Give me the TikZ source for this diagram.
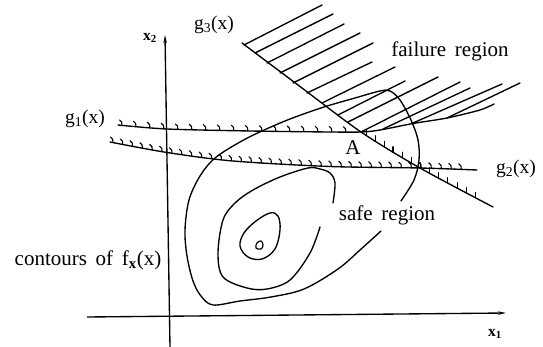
\documentclass[tikz,border=0pt]{standalone}
\usepackage{fontspec}
\setmainfont{Liberation Serif}
\usetikzlibrary{decorations.markings,arrows.meta}
\begin{document}
\begin{tikzpicture}[x=1pt,y=-1pt,
  line/.style={line width=1.35pt, line cap=round, line join=round},
  axis/.style={line width=1.35pt, -{Stealth[length=8pt,width=3.5pt]}},
  lbl/.style={font=\fontsize{21}{23}\selectfont, inner sep=0pt},
  glbl/.style={font=\fontsize{19.5}{21}\selectfont, inner sep=0pt},
  axl/.style={font=\fontsize{15.5}{16}\selectfont\bfseries, inner sep=0pt},
  hookticks/.style n args={3}{postaction={decorate}, decoration={markings,
     mark=between positions #1 and #2 step #3 with {\pgftransformresetnontranslations
       \draw[line width=1.1pt, line cap=round] (0pt,0pt) .. controls (0pt,3.5pt) .. (-2.5pt,5.5pt);}}},
  vticks/.style n args={3}{postaction={decorate}, decoration={markings,
     mark=between positions #1 and #2 step #3 with {\pgftransformresetnontranslations
       \draw[line width=1.1pt, line cap=round] (0pt,0pt) -- (0pt,5.5pt);}}},
  hatch/.style={line width=1.35pt, line cap=round}
]
\useasboundingbox (0,0) rectangle (543,347);

% axes
\coordinate (yb) at (170,347);
\coordinate (yt) at (165,35);
\coordinate (xl) at (87,317);
\coordinate (xr) at (506,313);
\draw[axis] (yb) -- (yt);
\draw[axis] (xl) -- (xr);
\node[axl] (x2) at (150,38) {x\textsubscript{2}};
\node[axl] (x1) at (495,334) {x\textsubscript{1}};

% limit state surfaces
\draw[line, hookticks={4pt}{236pt}{14pt}] plot[smooth, tension=0.5] coordinates
  {(118,125) (167,129) (250,131) (330,132) (361,132) (380,130) (413,123.5) (447,118) (480,110) (494,104)};
\draw[line, hookticks={3pt}{355pt}{10pt}] plot[smooth, tension=0.5] coordinates
  {(110,142) (167,152.5) (233,161) (330,166.5) (420,168) (477,170)};
\draw[line, vticks={155pt}{288pt}{10.5pt}] plot[smooth, tension=0.5] coordinates
  {(242,43) (300,86.5) (361,132) (420,168) (493,207)};

% failure region hatching
\foreach \sx/\sy/\ex/\ey in {244/45/322/5, 255/53/333/14, 267/63/344/24, 280/73/360/33,
   293/83/373/43, 307/93/372/62, 322/103/395/67, 338/115/405/81, 348/122/438/77,
   361/132/460/82, 383/129/470/88, 413/123/502/84, 447/118/520/83}
  \draw[hatch] (\sx,\sy) -- (\ex,\ey);

% contours
\draw[line] plot[smooth, tension=0.55] coordinates
  {(401,201) (414,180) (419,160) (418,140) (411,120) (400,100) (390,91) (380,91) (355,98)
   (324,107) (290,119) (262,131) (240,142) (215,158) (200,176) (189,200) (185,230) (187,256)
   (193,281) (201,296) (213,305) (240,301) (271,297) (304,289) (338,269) (360,250) (381,231)};
\draw[line] plot[smooth, tension=0.55] coordinates
  {(333,203) (335,183) (330,173) (320,169) (308,168) (280,177) (253,190) (235,203) (223,220)
   (218,253) (223,277) (247,288) (267,289) (290,280) (310,253) (320,227)};
\draw[line] plot[smooth cycle, tension=0.6] coordinates
  {(270,213) (278,216) (280,230) (275,249) (262,259) (248,257) (240,246) (244,233) (256,221)};
\draw[line, line width=1.2pt] plot[smooth cycle, tension=0.7] coordinates
  {(256,248) (257,243) (261,241) (263,245) (261,249)};

% labels
\node[glbl] (g3) at (214,25) {g\textsubscript{3}(x)};
\node[glbl] (g1) at (85,119) {g\textsubscript{1}(x)};
\node[glbl] (g2) at (516,169) {g\textsubscript{2}(x)};
\node[lbl] (fail) at (450,51) {failure\, region};
\node[lbl] (A) at (353,148) {A};
\node[lbl] (safe) at (387,215) {safe\, region};
\node[lbl] (cont) at (88,260) {contours\, of\, f\textsubscript{\textbf{x}}(x)};
\end{tikzpicture}
\end{document}
